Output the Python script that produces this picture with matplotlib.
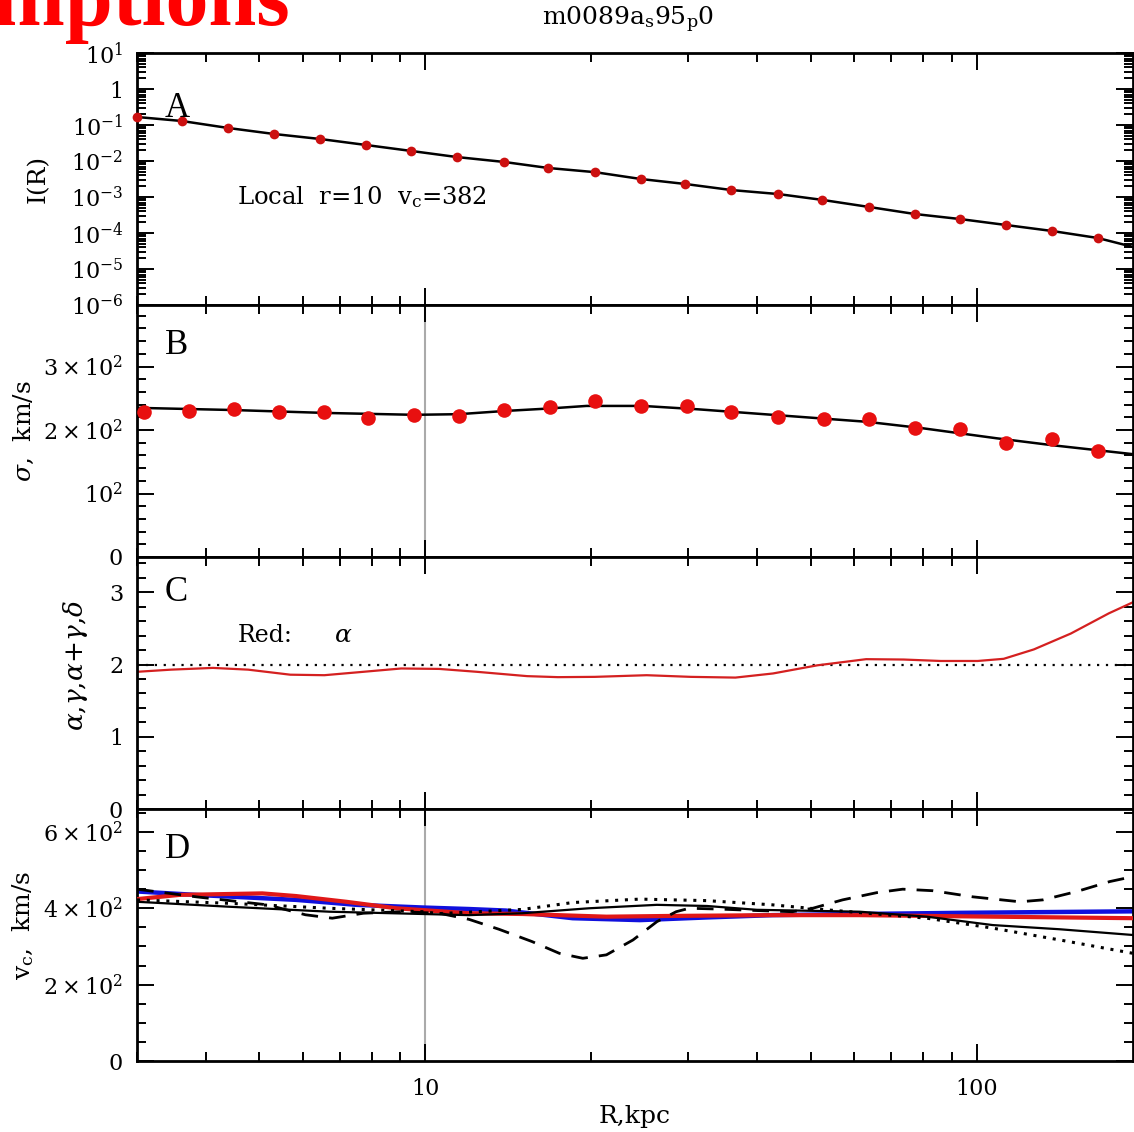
import matplotlib
matplotlib.use('Agg')
import matplotlib.pyplot as plt
from matplotlib.ticker import FixedLocator, MultipleLocator, NullFormatter, FixedFormatter, LogLocator

plt.rcParams['font.family'] = 'DejaVu Serif'
plt.rcParams['mathtext.fontset'] = 'dejavuserif'

# ---------------------------------------------------------
# Data
# ---------------------------------------------------------

# Panel A: surface brightness
r_pts_a = [3.0, 3.62, 4.39, 5.32, 6.45, 7.81, 9.43, 11.4, 13.9, 16.7, 20.3,
           24.6, 29.6, 35.9, 43.6, 52.5, 63.7, 77.2, 93.1, 112.9, 136.8, 165.8]
i_pts = [0.167, 0.129, 0.0826, 0.0562, 0.0408, 0.0278, 0.019, 0.0129, 0.0094,
         0.0064, 0.0049, 0.00316, 0.0023, 0.00156, 0.00121, 0.00083, 0.00053,
         0.000337, 0.000245, 0.000167, 0.000114, 0.0000726]
r_line_a = r_pts_a + [192.0]
i_line_a = i_pts + [0.000041]

# Panel B: velocity dispersion
r_pts_b = [3.09, 3.73, 4.50, 5.43, 6.56, 7.88, 9.55, 11.5, 13.9, 16.8, 20.3,
           24.6, 29.8, 35.9, 43.6, 52.8, 63.7, 77.2, 93.1, 112.9, 136.8, 165.8]
sig_pts = [229, 230, 233, 228, 228, 219, 224, 222, 231.5, 236.5, 246,
           238, 238, 228, 221, 217, 218, 203, 201.5, 179, 186, 167]
r_line_b = [3.0, 4.5, 6.56, 9.55, 11.5, 13.9, 16.8, 19.6, 24.8, 31.3, 42.6,
            63.2, 79.5, 108.7, 137.4, 192.0]
sig_line = [235, 231.5, 227, 224, 225, 230, 234, 238, 238, 232.6, 224,
            213, 203, 187, 176, 162]

# Panel C: alpha
r_alpha = [3.0, 3.46, 4.12, 4.77, 5.69, 6.56, 7.72, 9.04, 10.6, 12.4, 15.3,
           17.4, 20.3, 25.2, 30.3, 36.5, 42.7, 51.4, 63.0, 73.7, 86.0, 100.4,
           111.9, 126.9, 148.1, 173.6, 192.8]
alpha = [1.90, 1.93, 1.954, 1.93, 1.86, 1.853, 1.90, 1.946, 1.94, 1.90, 1.84,
         1.826, 1.83, 1.853, 1.83, 1.82, 1.877, 1.99, 2.075, 2.07, 2.05, 2.05,
         2.08, 2.21, 2.43, 2.71, 2.87]

# Panel D: circular velocity estimates
r_solid = [3.0, 4.41, 6.70, 9.88, 12.0, 15.0, 19.8, 26.3, 32.4, 39.9, 61.3,
           81.2, 106.9, 141.5, 192.0]
vc_solid = [417, 404, 391, 385, 382, 387, 400, 409, 406, 396, 391,
            378, 356, 345, 330]

r_dot = [3.0, 4.41, 6.70, 9.88, 10.6, 15.0, 18.5, 24.5, 32.4, 42.6, 53.4,
         81.2, 106.9, 141.5, 192.0]
vc_dot = [422, 413, 400, 391, 386, 397, 415, 424, 420, 409, 396,
          374, 348, 317, 282]

r_dash = [3.0, 3.84, 5.17, 6.06, 6.78, 7.72, 9.04, 10.6, 12.0, 13.6, 15.6,
          17.5, 19.3, 21.3, 23.8, 26.3, 28.5, 30.1, 34.0, 40.0, 46.3, 50.4,
          57.1, 65.9, 73.4, 83.2, 98.3, 119.7, 131.8, 151.9, 174.3, 192.0]
vc_dash = [450, 430, 409, 383, 374, 387, 391, 387, 371, 345, 313,
           282, 269, 278, 317, 365, 391, 400, 398, 394, 391, 400,
           422, 441, 450, 446, 430, 417, 422, 444, 470, 483]

r_blue = [3.0, 3.84, 5.83, 7.50, 9.88, 12.0, 14.0, 18.5, 24.5, 32.4, 42.6,
          61.3, 93.1, 192.0]
vc_blue = [444, 435, 422, 409, 402, 398, 394, 374, 369, 376, 382,
           385, 388, 392]

r_red = [3.0, 3.58, 5.06, 5.83, 7.19, 8.86, 12.0, 15.0, 21.3, 28.1, 42.6,
         61.3, 106.9, 192.0]
vc_red = [424, 435, 439, 432, 417, 400, 387, 385, 378, 380, 382,
          382, 378, 374]

# ---------------------------------------------------------
# Figure / axes layout (pixel geometry of the reference)
# ---------------------------------------------------------

W, H = 1134, 1132
fig = plt.figure(figsize=(W / 100, H / 100), dpi=100)

left, width = 137, 996
panel_tops = [53, 305, 557, 809]
panel_h = 252

axes = []
for top in panel_tops:
    ax = fig.add_axes([left / W, 1 - (top + panel_h) / H, width / W, panel_h / H])
    axes.append(ax)
axA, axB, axC, axD = axes

tick_fs = 16
lab_fs = 18
for ax in axes:
    ax.set_xscale('log')
    ax.set_xlim(3, 192)
    ax.xaxis.set_major_locator(FixedLocator([10, 100]))
    ax.xaxis.set_minor_locator(FixedLocator([3, 4, 5, 6, 7, 8, 9,
                                             20, 30, 40, 50, 60, 70, 80, 90]))
    ax.xaxis.set_minor_formatter(NullFormatter())
    ax.xaxis.set_major_formatter(NullFormatter())
    ax.tick_params(which='both', direction='in', top=True, right=True,
                   width=1.4, labelsize=tick_fs, pad=10)
    ax.tick_params(which='major', length=12)
    ax.tick_params(which='minor', length=6.5)
    for sp in ax.spines.values():
        sp.set_linewidth(2.0)

# ---------------------------------------------------------
# Panel A
# ---------------------------------------------------------

axA.set_yscale('log')
axA.set_ylim(1e-6, 10)
axA.yaxis.set_major_locator(FixedLocator([1e-6, 1e-5, 1e-4, 1e-3, 1e-2, 1e-1, 1, 10]))
axA.yaxis.set_major_formatter(FixedFormatter([r'$10^{-6}$', r'$10^{-5}$', r'$10^{-4}$',
                                              r'$10^{-3}$', r'$10^{-2}$', r'$10^{-1}$',
                                              '1', r'$10^{1}$']))
axA.yaxis.set_minor_locator(LogLocator(base=10, subs=range(2, 10), numticks=20))
axA.yaxis.set_minor_formatter(NullFormatter())

axA.plot(r_line_a, i_line_a, color='black', lw=1.8, zorder=2)
axA.plot(r_pts_a, i_pts, 'o', color='#cc1010', ms=7, mec='none', zorder=3,
         clip_on=False)
axA.text(0.028, 0.78, 'A', transform=axA.transAxes, fontsize=25,
         family='Liberation Serif', va='center')
axA.text(4.56, 1.0e-3, r'Local  r=10  v$_\mathrm{c}$=382', fontsize=17.5, va='center')
axA.set_ylabel('I(R)', fontsize=lab_fs)
axA.yaxis.set_label_coords(-0.088, 0.5)

# ---------------------------------------------------------
# Panel B
# ---------------------------------------------------------

axB.set_ylim(0, 397)
axB.yaxis.set_major_locator(FixedLocator([0, 100, 200, 300]))
axB.yaxis.set_major_formatter(FixedFormatter(['0', r'$10^{2}$', r'$2\times10^{2}$',
                                              r'$3\times10^{2}$']))
axB.yaxis.set_minor_locator(MultipleLocator(20))
axB.axvline(10, color='#aaaaaa', lw=1.5, zorder=1)
axB.plot(r_line_b, sig_line, color='black', lw=1.8, zorder=2)
axB.plot(r_pts_b, sig_pts, 'o', color='#e81010', ms=10.5, mec='none', zorder=3)
axB.text(0.028, 0.84, 'B', transform=axB.transAxes, fontsize=25,
         family='Liberation Serif', va='center')
axB.set_ylabel(r'$\sigma$,  km/s', fontsize=lab_fs)
axB.yaxis.set_label_coords(-0.101, 0.5)

# ---------------------------------------------------------
# Panel C
# ---------------------------------------------------------

axC.set_ylim(0, 3.49)
axC.yaxis.set_major_locator(FixedLocator([0, 1, 2, 3]))
axC.yaxis.set_major_formatter(FixedFormatter(['0', '1', '2', '3']))
axC.yaxis.set_minor_locator(MultipleLocator(0.2))
axC.axhline(2, color='black', lw=1.6, ls=(0, (1, 3)), zorder=1)
axC.plot(r_alpha, alpha, color='#d42020', lw=1.6, zorder=2)
axC.text(0.028, 0.86, 'C', transform=axC.transAxes, fontsize=25,
         family='Liberation Serif', va='center')
axC.text(4.56, 2.4, 'Red:', fontsize=17, va='center')
axC.text(6.84, 2.4, r'$\alpha$', fontsize=18, va='center')
axC.set_ylabel(r'$\alpha{,}\gamma{,}\alpha{+}\gamma{,}\delta$', fontsize=19)
axC.yaxis.set_label_coords(-0.047, 0.57)

# ---------------------------------------------------------
# Panel D
# ---------------------------------------------------------

axD.set_ylim(0, 660)
axD.yaxis.set_major_locator(FixedLocator([0, 200, 400, 600]))
axD.yaxis.set_major_formatter(FixedFormatter(['0', r'$2\times10^{2}$',
                                              r'$4\times10^{2}$', r'$6\times10^{2}$']))
axD.yaxis.set_minor_locator(MultipleLocator(50))
axD.axvline(10, color='#aaaaaa', lw=1.5, zorder=1)
axD.plot(r_blue, vc_blue, color='#1010dd', lw=3.2, zorder=2)
axD.plot(r_red, vc_red, color='#e01818', lw=3.0, zorder=3)
axD.plot(r_solid, vc_solid, color='black', lw=1.6, zorder=4)
axD.plot(r_dot, vc_dot, color='black', lw=2.2, ls=(0, (1, 2.2)), zorder=4)
axD.plot(r_dash, vc_dash, color='black', lw=2.0, ls=(0, (6, 4)), zorder=4)
axD.text(0.028, 0.84, 'D', transform=axD.transAxes, fontsize=25,
         family='Liberation Serif', va='center')
axD.set_ylabel(r'v$_\mathrm{c}$,  km/s', fontsize=lab_fs)
axD.yaxis.set_label_coords(-0.101, 0.54)

axD.xaxis.set_major_formatter(FixedFormatter(['10', '100']))
axD.tick_params(axis='x', which='major', pad=12)
axD.set_xlabel('R,kpc', fontsize=18, labelpad=4)

# title and overlay text
fig.text(628 / W, 1 - 20 / H, r'm0089a$_\mathrm{s}$95$_\mathrm{p}$0', fontsize=18,
         ha='center', va='center')
fig.text(290 / W, 1 - 25 / H, 'Assumptions', fontsize=62, color='red',
         fontweight='bold', family='Liberation Serif', ha='right', va='baseline')

fig.savefig('out.png', dpi=100)
